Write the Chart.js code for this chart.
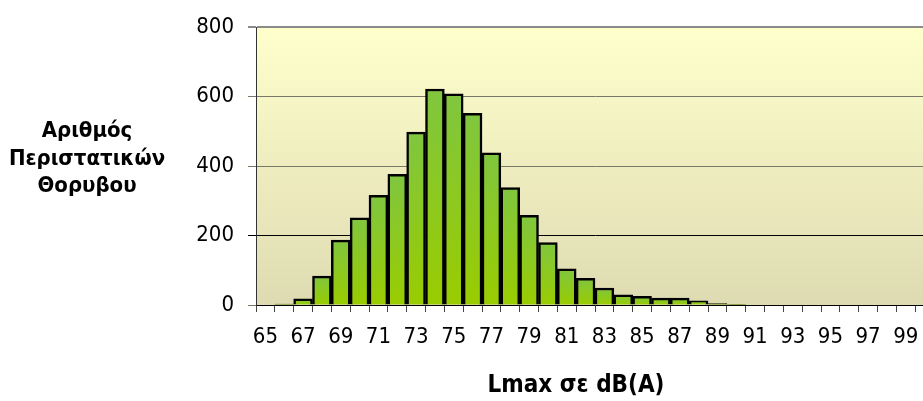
<!DOCTYPE html>
<html>
<head>
<meta charset="utf-8">
<script src="https://cdn.jsdelivr.net/npm/chart.js@4"></script>
<style>
  html, body { margin: 0; padding: 0; background: #fff; overflow: hidden; }
  #wrap { width: 923px; height: 401px; overflow: hidden; position: relative; }
  canvas { display: block; }
</style>
</head>
<body>
<div id="wrap"><canvas id="c" width="945" height="401"></canvas></div>
<script>
// Categories: Lmax in dB(A)
const categories = [65,66,67,68,69,70,71,72,73,74,75,76,77,78,79,80,81,82,83,84,85,86,87,88,89,90,91,92,93,94,95,96,97,98,99,100];
// Number of noise events per category
const counts = [0,3,18,83,187,251,316,376,498,622,608,552,438,338,258,180,104,77,49,29,25,20,20,12,4,2,0,0,0,0,0,0,0,0,0,0];
const yTicks = [0,200,400,600,800];
const yTitleLines = ['Αριθμός', 'Περιστατικών', 'Θορυβου'];
const xTitle = 'Lmax σε dB(A)';

const FONT = "'DejaVu Sans Condensed', 'Liberation Sans', sans-serif";

const bgPlugin = {
  id: 'bg',
  beforeDraw(chart) {
    const {ctx, chartArea: a} = chart;
    const g = ctx.createLinearGradient(0, a.top, 0, a.bottom);
    g.addColorStop(0, '#FFFFCC');
    g.addColorStop(1, '#DEDBB2');
    ctx.save();
    ctx.fillStyle = g;
    ctx.fillRect(a.left, a.top, a.right - a.left, a.bottom - a.top);
    ctx.restore();
  }
};

const titlesPlugin = {
  id: 'titles',
  afterDraw(chart) {
    const ctx = chart.ctx;
    ctx.save();
    ctx.fillStyle = '#000';
    ctx.textAlign = 'center';
    ctx.textBaseline = 'alphabetic';
    ctx.font = "bold 22px " + FONT;
    const ys = [137, 165, 192];
    yTitleLines.forEach((t, i) => ctx.fillText(t, 87, ys[i]));
    ctx.font = "bold 24px " + FONT;
    ctx.fillText(xTitle, 576, 392);
    ctx.restore();
  }
};

new Chart(document.getElementById('c'), {
  type: 'bar',
  data: {
    labels: categories.map(String),
    datasets: [{
      data: counts,
      borderColor: '#000',
      borderWidth: 2.5,
      barPercentage: 1,
      categoryPercentage: 1,
      backgroundColor(ctx) {
        const chart = ctx.chart;
        const y = chart.scales && chart.scales.y;
        if (!chart.chartArea || !y || ctx.raw == null) return '#8CC820';
        const top = y.getPixelForValue(ctx.raw);
        const bottom = y.getPixelForValue(0);
        if (bottom - top < 1) return '#99CC00';
        const g = chart.ctx.createLinearGradient(0, top, 0, bottom);
        g.addColorStop(0, '#80C63F');
        g.addColorStop(1, '#99CC00');
        return g;
      }
    }]
  },
  options: {
    responsive: false,
    animation: false,
    events: [],
    layout: { padding: { top: 23, left: 0, right: 11, bottom: 0 } },
    plugins: { legend: { display: false }, tooltip: { enabled: false } },
    scales: {
      x: {
        type: 'category',
        offset: true,
        afterFit(s) { s.height = 96; },
        grid: {
          offset: true,
          drawOnChartArea: false,
          drawTicks: true,
          tickLength: 7,
          color: '#444',
          lineWidth: 1
        },
        border: { display: true, color: '#000', width: 1 },
        ticks: {
          autoSkip: false,
          maxRotation: 0,
          minRotation: 0,
          padding: 12,
          color: '#000',
          font: { family: FONT, size: 22 },
          callback(v, i) { return i % 2 === 0 ? categories[i] : ''; }
        }
      },
      y: {
        min: 0,
        max: 800,
        afterFit(s) { s.width = 256; },
        afterBuildTicks(s) { s.ticks = yTicks.map(v => ({ value: v })); },
        grid: {
          tickLength: 8,
          color(c) {
            const v = c.tick && c.tick.value;
            if (v === 800) return '#8a8a8a';
            if (v === 200) return '#000';
            return '#77776a';
          },
          lineWidth(c) { return (c.tick && c.tick.value === 800) ? 2 : 1; }
        },
        border: { display: true, color: '#333', width: 1 },
        ticks: {
          padding: 14,
          color: '#000',
          font: { family: FONT, size: 22 }
        }
      }
    }
  },
  plugins: [bgPlugin, titlesPlugin]
});
</script>
</body>
</html>
